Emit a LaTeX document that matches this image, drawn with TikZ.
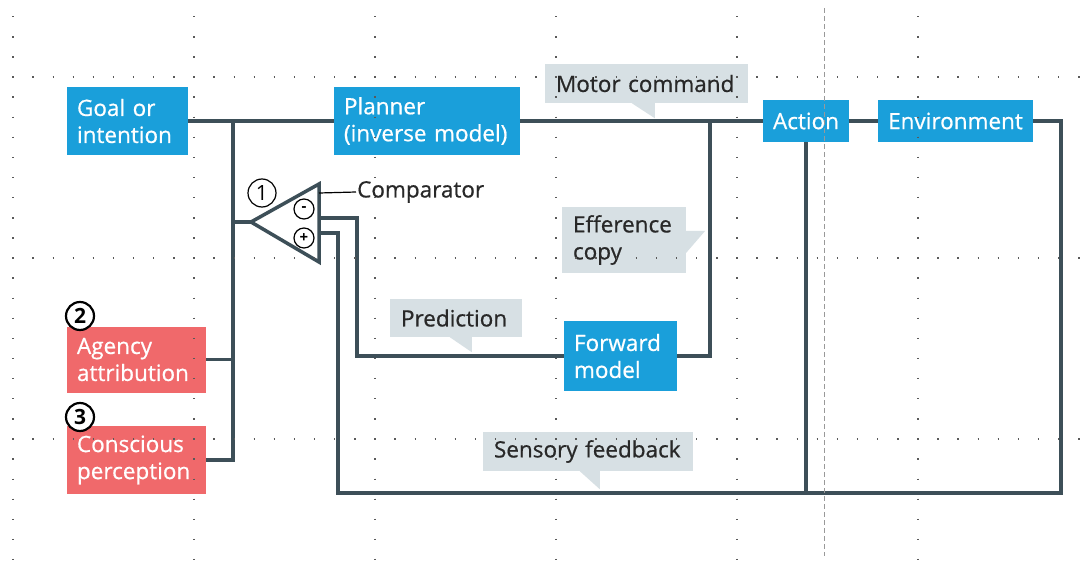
\documentclass[tikz,border=0pt]{standalone}
\usepackage{fontspec}
\setmainfont{Open Sans}
\newfontfamily\medfont{Open Sans}[FakeBold=0.7]
\usetikzlibrary{positioning}

\definecolor{boxblue}{RGB}{26,159,218}
\definecolor{boxred}{RGB}{240,105,107}
\definecolor{notegray}{RGB}{215,224,228}
\definecolor{wirecol}{RGB}{61,79,88}
\definecolor{inkcol}{RGB}{40,40,40}

\tikzset{
  labelfont/.style={font=\medfont\fontsize{22.5}{27}\selectfont},
  bluebox/.style={labelfont, fill=boxblue, text=white, align=left, inner xsep=10pt, inner ysep=0pt},
  redbox/.style={labelfont, fill=boxred, text=white, align=left, inner xsep=10pt, inner ysep=0pt},
  notebox/.style={labelfont, fill=notegray, text=inkcol, align=left, inner xsep=11pt, inner ysep=0pt},
  wire/.style={draw=wirecol, line width=3.5pt},
  sign/.style={circle, draw=black, line width=1.2pt, fill=white, minimum size=20pt, inner sep=0pt, font=\bfseries\fontsize{15}{15}\selectfont},
  numcircle/.style={circle, draw=black, fill=white, minimum size=28pt, inner sep=0pt, font=\fontsize{21}{21}\selectfont},
  griddot/.style={black!65, line width=1.4pt, dash pattern=on 1.4pt off 18.71pt},
}

\begin{document}
\begin{tikzpicture}[x=1pt, y=-1pt]
  \fill[white] (0,0) rectangle (1090,562);
  \useasboundingbox (0,0) rectangle (1090,562);

  % Blocks
  \node[bluebox, minimum width=121pt, minimum height=68pt, text width=101pt] (goal) at (127.5,121) {Goal or\\intention};
  \node[bluebox, minimum width=186pt, minimum height=68pt, text width=166pt] (planner) at (427,121) {Planner\\(inverse model)};
  \node[bluebox, align=center, minimum width=86pt, minimum height=42pt, inner xsep=0pt] (action) at (806,121) {Action};
  \node[bluebox, align=center, minimum width=155pt, minimum height=42pt, inner xsep=0pt] (env) at (955.5,121) {Environment};
  \node[bluebox, minimum width=113pt, minimum height=70pt, text width=93pt] (forward) at (620.5,356) {Forward\\model};
  \node[redbox, minimum width=139pt, minimum height=66pt, text width=119pt] (agency) at (136.5,359.5) {Agency\\attribution};
  \node[redbox, minimum width=139pt, minimum height=68pt, text width=119pt] (conscious) at (136.5,460) {Conscious\\perception};

  % Comparator
  \coordinate (cmptip) at (251,222);
  \coordinate (cmptop) at (319,184);
  \coordinate (cmpbot) at (319,262);
  \coordinate (minusin) at (319,218);
  \coordinate (plusin) at (319,233);
  \coordinate (cmptag) at (319,193);
  \draw[wire] (cmptip) -- (cmptop) -- (cmpbot) -- cycle;
  \node[sign] (minus) at (304,209) {-};
  \node[sign] (plus) at (304,238) {+};
  \node[labelfont, text=inkcol, anchor=west, inner xsep=1pt] (cmplabel) at (356,192) {Comparator};
  \draw[line width=1.2pt] (cmptag) -- (cmplabel.west);

  % Wires
  \coordinate (bustop) at (233,121);
  \coordinate (effjoin) at (710,121);
  \coordinate (predturn) at (357,356);
  \coordinate (fbright) at (1061,493);
  \coordinate (fbleft) at (338,493);
  \draw[wire] (goal.east) -- (planner.west);
  \draw[wire] (planner.east) -- (action.west);
  \draw[wire] (action.east) -- (env.west);
  \draw[wire] (conscious.east) -| (bustop);
  \draw[wire] (agency.east) -- (agency.east -| bustop);
  \draw[wire] (cmptip) -- (cmptip -| bustop);
  \draw[wire] (forward.east) -| (effjoin);
  \draw[wire] (forward.west) -- (predturn) |- (minusin);
  \draw[wire] (env.east) -| (fbright) -- (fbleft) |- (plusin);
  \draw[wire] (action.south) -- (action.south |- fbright);

  % Callouts
  \node[notebox, minimum width=203pt, minimum height=39pt, text width=181pt] (motorlbl) at (646.5,83.5) {Motor command};
  \fill[notegray] ([xshift=87pt]motorlbl.south west) -- ++(23,0) -- ++(0,15) -- cycle;
  \node[notebox, minimum width=124pt, minimum height=66pt, text width=102pt] (efflbl) at (624,240) {Efference\\copy};
  \fill[notegray] ([yshift=-24pt]efflbl.north east) -- ++(19,0) -- ++(-19,22) -- cycle;
  \node[notebox, minimum width=132pt, minimum height=38pt, text width=110pt] (predlbl) at (456,318) {Prediction};
  \fill[notegray] ([xshift=60pt]predlbl.south west) -- ++(22,0) -- ++(0,15) -- cycle;
  \node[notebox, minimum width=210pt, minimum height=39pt, text width=188pt] (senslbl) at (588,451.5) {Sensory feedback};
  \fill[notegray] ([xshift=97pt]senslbl.south west) -- ++(20,0) -- ++(0,18) -- cycle;

  % Numbers
  \node[numcircle, line width=1.2pt, fill=none] (one) at (262,193) {1};
  \node[numcircle, line width=2.2pt] (two) at (80,316) {\textbf{2}};
  \node[numcircle, line width=2.2pt] (three) at (80,417) {\textbf{3}};

  % Guides
  \foreach \gy in {77,258,439}
    \draw[griddot] (12.3,\gy) -- (1082,\gy);
  \foreach \gx in {13,194,375,556,737,918}
    \draw[griddot] (\gx,16) -- (\gx,562);
  \draw[black!40, line width=1pt, dash pattern=on 5pt off 3pt] (824,8) -- (824,556);
\end{tikzpicture}
\end{document}
